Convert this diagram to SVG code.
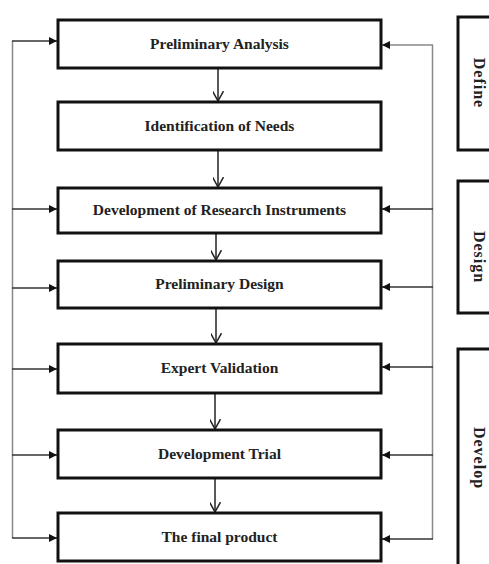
<svg xmlns="http://www.w3.org/2000/svg" width="489" height="564" viewBox="0 0 489 564">
<style>
.box{fill:#fff;stroke:#111;stroke-width:3}
.t{font-family:"Liberation Serif","DejaVu Serif",serif;font-weight:bold;font-size:15.5px;fill:#222;text-anchor:middle}
.lt{font-family:"Liberation Serif","DejaVu Serif",serif;font-weight:bold;font-size:16px;letter-spacing:1px;fill:#222;text-anchor:middle}
.v{fill:none;stroke:#888;stroke-width:1.5}
.h{fill:none;stroke:#333;stroke-width:1.5}
.d{fill:none;stroke:#222;stroke-width:1.5}
</style>
<defs>
<marker id="fa" viewBox="0 0 10 10" refX="10" refY="5" markerWidth="8" markerHeight="8" orient="auto" markerUnits="userSpaceOnUse">
<path d="M0,0 L10,5 L0,10 z" fill="#111"/>
</marker>
<marker id="oa" viewBox="0 0 10 10" refX="9" refY="5" markerWidth="11" markerHeight="11" orient="auto" markerUnits="userSpaceOnUse">
<path d="M0,0 L9,5 L0,10" fill="none" stroke="#222" stroke-width="1.4"/>
</marker>
</defs>
<g id="connectors">
<path class="v" d="M12.5,41 V538"/>
<path class="v" d="M432.5,45 V539"/>
<path class="h" d="M12,41 H57" marker-end="url(#fa)"/>
<path class="h" d="M12,209 H57" marker-end="url(#fa)"/>
<path class="h" d="M12,288 H57" marker-end="url(#fa)"/>
<path class="h" d="M12,369 H57" marker-end="url(#fa)"/>
<path class="h" d="M12,455 H57" marker-end="url(#fa)"/>
<path class="h" d="M12,538 H57" marker-end="url(#fa)"/>
<path class="v" d="M433,45 H382" marker-end="url(#fa)"/>
<path class="h" d="M433,209 H382" marker-end="url(#fa)"/>
<path class="h" d="M433,287 H382" marker-end="url(#fa)"/>
<path class="h" d="M433,367 H382" marker-end="url(#fa)"/>
<path class="h" d="M433,455 H382" marker-end="url(#fa)"/>
<path class="h" d="M433,539 H382" marker-end="url(#fa)"/>
<path class="d" d="M218,69 V101" marker-end="url(#oa)"/>
<path class="d" d="M218,151 V187" marker-end="url(#oa)"/>
<path class="d" d="M216,234 V260" marker-end="url(#oa)"/>
<path class="d" d="M216,309 V343" marker-end="url(#oa)"/>
<path class="d" d="M215,394 V429" marker-end="url(#oa)"/>
<path class="d" d="M215,479 V512" marker-end="url(#oa)"/>
</g>
<g id="n1"><rect class="box" x="58" y="20" width="323" height="48"/><text class="t" x="219.5" y="49">Preliminary Analysis</text></g>
<g id="n2"><rect class="box" x="58" y="102" width="323" height="48"/><text class="t" x="219.5" y="131">Identification of Needs</text></g>
<g id="n3"><rect class="box" x="58" y="188" width="323" height="45"/><text class="t" x="219.5" y="215">Development of Research Instruments</text></g>
<g id="n4"><rect class="box" x="58" y="261" width="323" height="47"/><text class="t" x="219.5" y="289">Preliminary Design</text></g>
<g id="n5"><rect class="box" x="58" y="344" width="323" height="49"/><text class="t" x="219.5" y="373">Expert Validation</text></g>
<g id="n6"><rect class="box" x="58" y="430" width="323" height="48"/><text class="t" x="219.5" y="459">Development Trial</text></g>
<g id="n7"><rect class="box" x="58" y="513" width="323" height="48"/><text class="t" x="219.5" y="542">The final product</text></g>
<g id="define"><rect class="box" x="458" y="17" width="60" height="133"/><text class="lt" transform="translate(474,83) rotate(90)">Define</text></g>
<g id="design"><rect class="box" x="458" y="181" width="60" height="132"/><text class="lt" transform="translate(474,257) rotate(90)">Design</text></g>
<g id="develop"><rect class="box" x="458" y="349" width="60" height="240"/><text class="lt" transform="translate(474,458) rotate(90)">Develop</text></g>
</svg>
